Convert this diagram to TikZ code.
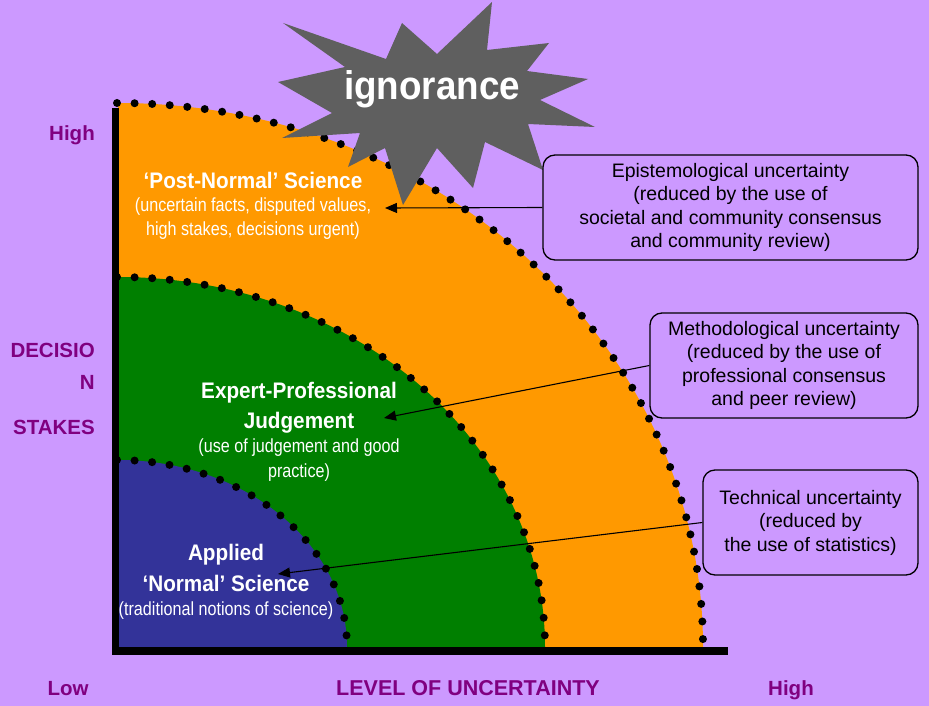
\documentclass[tikz,border=0pt]{standalone}
\usepackage{fontspec}
\setmainfont{Liberation Sans}
\newfontfamily\titlefont[FakeStretch=0.92]{Liberation Sans}
\newfontfamily\subfont[FakeStretch=0.85]{Liberation Sans}
\usetikzlibrary{arrows.meta}
\definecolor{bgcol}{HTML}{CC99FF}
\definecolor{orangecol}{HTML}{FF9900}
\definecolor{greencol}{HTML}{007F00}
\definecolor{bluecol}{HTML}{333399}
\definecolor{greycol}{HTML}{5F5F5F}
\definecolor{purplecol}{HTML}{800080}
\tikzset{
  dotline/.style={line width=8pt, line cap=round, dash pattern=on 0pt off 17.6pt, black},
  regiontitle/.style={inner sep=0pt, align=center, text=white},
  axislabel/.style={inner sep=0pt, text=purplecol, font=\bfseries\fontsize{20.5}{24}\selectfont},
  infobox/.style={draw=black, line width=1.3pt, rounded corners=12pt, fill=bgcol, align=center,
    minimum height=105pt, inner sep=0pt, font=\fontsize{19.5}{23.5}\selectfont},
  pointer/.style={draw=black, line width=1.1pt, -{Triangle[length=12pt,width=10pt]}}
}
\begin{document}
\begin{tikzpicture}[x=1pt,y=-1pt]
\fill[bgcol] (0,0) rectangle (929,706);
\useasboundingbox (0,0) rectangle (929,706);
% regions
\fill[orangecol] (118,647) -- (118,103) arc[start angle=-90, end angle=0, x radius=585, y radius=544] -- cycle;
\fill[greencol] (118,647) -- (118,277) arc[start angle=-90, end angle=0, x radius=427, y radius=370] -- cycle;
\fill[bluecol] (118,647) -- (118,460) arc[start angle=-90, end angle=0, x radius=229, y radius=187] -- cycle;
\draw[dotline] (117,103) arc[start angle=-90, end angle=0, x radius=586, y radius=544];
\draw[dotline] (117,277) arc[start angle=-90, end angle=0, x radius=428, y radius=370];
\draw[dotline] (117,460) arc[start angle=-90, end angle=0, x radius=230, y radius=187];
% axes
\fill[black] (112,108) rectangle (119,655);
\fill[black] (112,647) rectangle (728,655);
% starburst
\fill[greycol] (283,23) -- (386,59) -- (402,23) -- (437,54) -- (492,2) -- (487,50) -- (549,43) -- (527,71)
  -- (588,79) -- (540,100) -- (595,127) -- (528,124) -- (543,170) -- (485,142) -- (473,188) -- (437,148)
  -- (403,205) -- (385,148) -- (348,167) -- (360,133) -- (282,138) -- (332,113) -- (278,82) -- (345,67) -- cycle;
\node[inner sep=0pt, text=white, font=\titlefont\bfseries\fontsize{40}{44}\selectfont, anchor=base] (ign) at (432,100) {ignorance};
% region labels
\node[regiontitle, anchor=north, font=\subfont\fontsize{19}{23.5}\selectfont] (pn) at (253,171.6)
  {{\titlefont\bfseries\fontsize{22.5}{23.5}\selectfont ‘Post-Normal’ Science}\\(uncertain facts, disputed values,\\high stakes, decisions urgent)};
\node[regiontitle, anchor=north, font=\subfont\fontsize{19}{24.5}\selectfont] (ep) at (299,381.6)
  {{\titlefont\bfseries\fontsize{22.5}{24.5}\selectfont Expert-Professional}\\[5.5pt]{\titlefont\bfseries\fontsize{22.5}{24.5}\selectfont Judgement}\\(use of judgement and good\\practice)};
\node[regiontitle, anchor=north, font=\subfont\fontsize{19}{24}\selectfont] (ns) at (226,543.6)
  {{\titlefont\bfseries\fontsize{22.5}{24}\selectfont Applied}\\[7pt]{\titlefont\bfseries\fontsize{22.5}{24}\selectfont ‘Normal’ Science}\\(traditional notions of science)};
% axis labels
\node[axislabel, anchor=base] (hightop) at (72,140.5) {High};
\node[axislabel, anchor=north east, align=right, font=\bfseries\fontsize{20.5}{31.5}\selectfont] (stakes) at (95,343.3) {DECISIO\\N\\[13.5pt]STAKES};
\node[axislabel, anchor=base] (low) at (68,695.5) {Low};
\node[axislabel, anchor=base, font=\bfseries\fontsize{21.5}{24}\selectfont] (lou) at (468,695.5) {LEVEL OF UNCERTAINTY};
\node[axislabel, anchor=base] (highright) at (791,695.5) {High};
% boxes
\node[infobox, minimum width=375pt] (b1) at (730.5,207.5) {Epistemological uncertainty\\(reduced by the use of\\societal and community consensus\\and community review)};
\node[infobox, minimum width=268pt] (b2) at (784,365.5) {Methodological uncertainty\\(reduced by the use of\\professional consensus\\and peer review)};
\node[infobox, minimum width=215pt] (b3) at (810.5,522.5) {Technical uncertainty\\(reduced by\\the use of statistics)};
% pointers
\coordinate (t1) at (385,208);
\coordinate (t2) at (384,418);
\coordinate (t3) at (278,574);
\draw[pointer] (b1.west) -- (t1);
\draw[pointer] (b2.west) -- (t2);
\draw[pointer] (b3.west) -- (t3);
\end{tikzpicture}
\end{document}
